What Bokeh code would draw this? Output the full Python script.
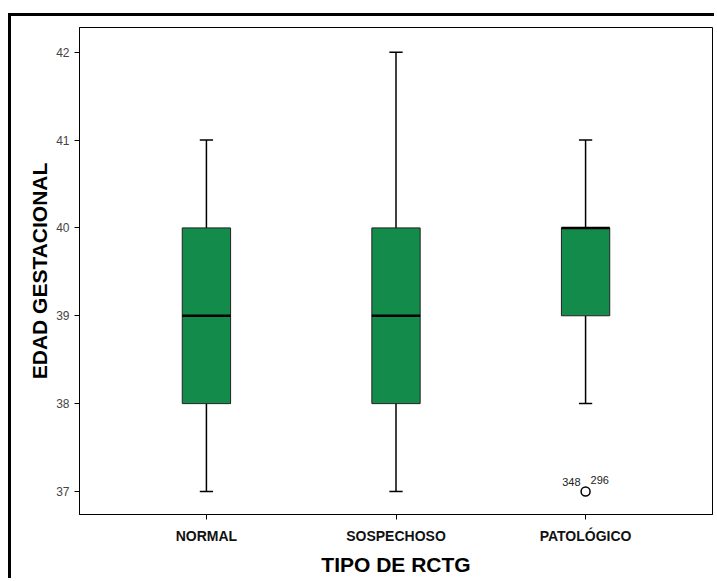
from bokeh.plotting import figure
from bokeh.models import FactorRange, Range1d, FixedTicker, ColumnDataSource
from bokeh.transform import dodge
from bokeh.core.properties import value
from bokeh.embed import file_html
from bokeh.resources import INLINE

# Five-number summaries per RCTG type
categories = ["NORMAL", "SOSPECHOSO", "PATOLÓGICO"]
whisker_low = [37, 37, 38]
q1 = [38, 38, 39]
median = [39, 39, 40]
q3 = [40, 40, 40]
whisker_high = [41, 42, 41]

# Outlier (two cases share the same value)
outlier_cat = ["PATOLÓGICO"]
outlier_val = [37]
outlier_ids = ["348", "296"]

y_ticks = [37, 38, 39, 40, 41, 42]

FONT = "Liberation Sans"
GREEN = "#138c4b"

src = ColumnDataSource(dict(cat=categories, lo=whisker_low, q1=q1, med=median,
                            q3=q3, hi=whisker_high))

p = figure(width=706, height=565, output_backend="svg", toolbar_location=None,
           x_range=FactorRange(factors=categories, range_padding=0.113),
           y_range=Range1d(36.738, 42.281),
           min_border_left=68, min_border_right=5, min_border_top=11,
           min_border_bottom=67)
p.margin = (13, 0, 0, 8)
p.styles = {"border-left": "3px solid #000", "border-top": "3px solid #000"}

p.xgrid.visible = False
p.ygrid.visible = False
p.outline_line_color = "#000000"
p.outline_line_width = 1

# Whisker stems
p.segment(x0="cat", y0="lo", x1="cat", y1="q1", source=src, line_color="#000", line_width=1.5)
p.segment(x0="cat", y0="q3", x1="cat", y1="hi", source=src, line_color="#000", line_width=1.5)
# Whisker caps
cap = 0.035
for col in ("lo", "hi"):
    p.segment(x0=dodge("cat", -cap, range=p.x_range), y0=col,
              x1=dodge("cat", cap, range=p.x_range), y1=col,
              source=src, line_color="#000", line_width=1.5)

# Boxes
p.vbar(x="cat", bottom="q1", top="q3", width=0.255, source=src,
       fill_color=GREEN, line_color="#222222", line_width=1)
# Medians
p.segment(x0=dodge("cat", -0.1275, range=p.x_range), y0="med",
          x1=dodge("cat", 0.1275, range=p.x_range), y1="med",
          source=src, line_color="#000", line_width=2.5)

# Outlier marker and case labels
p.scatter(x=outlier_cat, y=outlier_val, marker="circle", size=9,
          fill_color="white", line_color="#000", line_width=1.5)
p.text(x=outlier_cat * 2, y=outlier_val * 2, text=outlier_ids,
       x_offset=[-5, 5], y_offset=[-5, -7], text_align=["right", "left"],
       text_baseline="bottom", text_font=value(FONT), text_font_size="11px",
       text_color="#222222")

# Axes
p.yaxis.ticker = FixedTicker(ticks=y_ticks)
p.yaxis.minor_tick_line_color = None
p.yaxis.major_tick_out = 5
p.yaxis.major_tick_in = 0
p.yaxis.major_label_text_font = FONT
p.yaxis.major_label_text_font_size = "12px"
p.yaxis.major_label_text_color = "#444444"
p.yaxis.axis_label = "EDAD GESTACIONAL"
p.yaxis.axis_label_text_font = FONT
p.yaxis.axis_label_text_font_style = "bold"
p.yaxis.axis_label_text_font_size = "21px"
p.yaxis.axis_label_text_color = "#000"
p.yaxis.axis_label_standoff = 2

p.xaxis.major_tick_out = 5
p.xaxis.major_tick_in = 0
p.xaxis.major_label_text_font = FONT
p.xaxis.major_label_text_font_style = "bold"
p.xaxis.major_label_text_font_size = "14px"
p.xaxis.major_label_text_color = "#111111"
p.xaxis.major_label_standoff = 8
p.xaxis.axis_label = "TIPO DE RCTG"
p.xaxis.axis_label_text_font = FONT
p.xaxis.axis_label_text_font_style = "bold"
p.xaxis.axis_label_text_font_size = "21px"
p.xaxis.axis_label_text_color = "#000"
p.xaxis.axis_label_standoff = 6

for ax in (p.xaxis, p.yaxis):
    ax.axis_line_color = "#000"
    ax.major_tick_line_color = "#000"

open("out.html", "w").write(file_html(p, INLINE))
